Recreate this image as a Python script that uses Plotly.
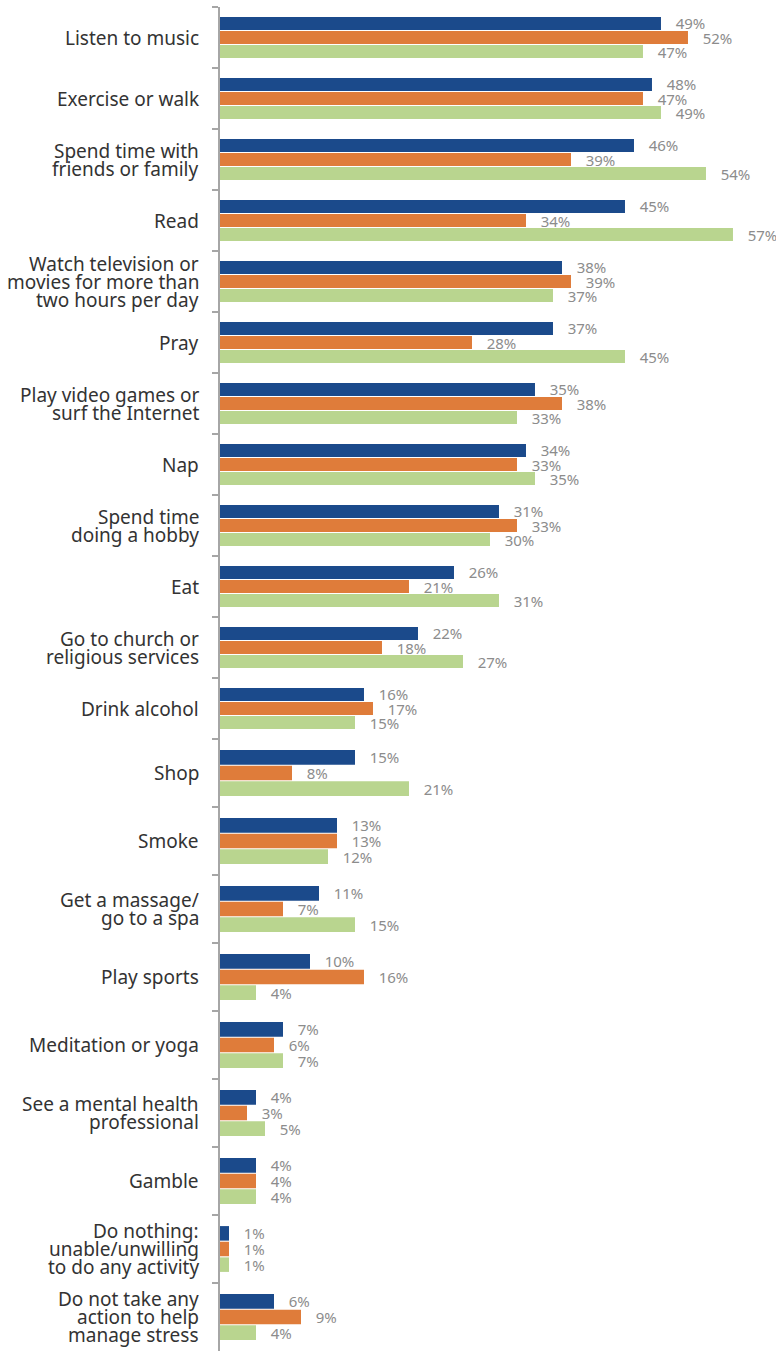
import plotly.graph_objects as go
from plotly.subplots import make_subplots

categories = [
    "Listen to music",
    "Exercise or walk",
    "Spend time with<br>friends or family",
    "Read",
    "Watch television or<br>movies for more than<br>two hours per day",
    "Pray",
    "Play video games or<br>surf the Internet",
    "Nap",
    "Spend time<br>doing a hobby",
    "Eat",
    "Go to church or<br>religious services",
    "Drink alcohol",
    "Shop",
    "Smoke",
    "Get a massage/<br>go to a spa",
    "Play sports",
    "Meditation or yoga",
    "See a mental health<br>professional",
    "Gamble",
    "Do nothing:<br>unable/unwilling<br>to do any activity",
    "Do not take any<br>action to help<br>manage stress",
]

series1 = [49, 48, 46, 45, 38, 37, 35, 34, 31, 26, 22, 16, 15, 13, 11, 10, 7, 4, 4, 1, 6]
series2 = [52, 47, 39, 34, 39, 28, 38, 33, 33, 21, 18, 17, 8, 13, 7, 16, 6, 3, 4, 1, 9]
series3 = [47, 49, 54, 57, 37, 45, 33, 35, 30, 31, 27, 15, 21, 12, 15, 4, 7, 5, 4, 1, 4]

series_names = ["Series 1", "Series 2", "Series 3"]
colors = ["#1b4a8b", "#df7c3a", "#b9d58f"]

# the original chart uses two different row pitches (first 12 rows tighter)
SPLIT = 12
TOP_PITCH = 61
BOTTOM_PITCH = 68

n_top = SPLIT
n_bot = len(categories) - SPLIT

fig = make_subplots(
    rows=2, cols=1, shared_xaxes=True, vertical_spacing=0,
    row_heights=[n_top * TOP_PITCH, n_bot * BOTTOM_PITCH],
)

parts = [(1, slice(0, SPLIT)), (2, slice(SPLIT, None))]
for row, sl in parts:
    cats = categories[sl]
    for name, vals, col in zip(series_names, [series1, series2, series3], colors):
        v = vals[sl]
        fig.add_trace(go.Bar(
            y=cats,
            x=v,
            name=name,
            orientation="h",
            marker=dict(color=col, line=dict(width=0)),
            text=["\u00a0\u00a0\u00a0" + f"{x}%" for x in v],
            textposition="outside",
            textfont=dict(color="#8c8c8c", size=15, family="Noto Sans"),
            cliponaxis=False,
            constraintext="none",
            showlegend=False,
            hoverinfo="skip",
        ), row=row, col=1)

# category labels as right-aligned text lines next to the axis
annotations = []
for idx, cat in enumerate(categories):
    yref = "y" if idx < SPLIT else "y2"
    lines = cat.split("<br>")
    n = len(lines)
    for i, line in enumerate(lines):
        annotations.append(dict(
            xref="paper", yref=yref, x=0, y=cat,
            text=line, showarrow=False,
            xanchor="right", yanchor="middle",
            xshift=-19, yshift=((n - 1) / 2 - i) * 18,
            font=dict(size=19, color="#333333", family="Noto Sans"),
        ))

fig.update_layout(
    width=776,
    height=1351,
    margin=dict(l=220, r=0, t=7, b=0),
    barmode="group",
    bargap=0.31,
    bargroupgap=0.07,
    plot_bgcolor="white",
    paper_bgcolor="white",
    font=dict(family="Noto Sans", color="#333333"),
    annotations=annotations,
)
fig.update_xaxes(
    range=[0, 61.78],
    showgrid=False,
    zeroline=False,
    showticklabels=False,
    showline=False,
    ticks="",
)
fig.update_yaxes(
    autorange="reversed",
    showgrid=False,
    showline=True,
    linecolor="#a6a6a6",
    linewidth=1.5,
    ticks="outside",
    tickson="boundaries",
    ticklen=6,
    tickwidth=1.5,
    tickcolor="#a6a6a6",
    showticklabels=False,
)

fig.write_html("out.html")
